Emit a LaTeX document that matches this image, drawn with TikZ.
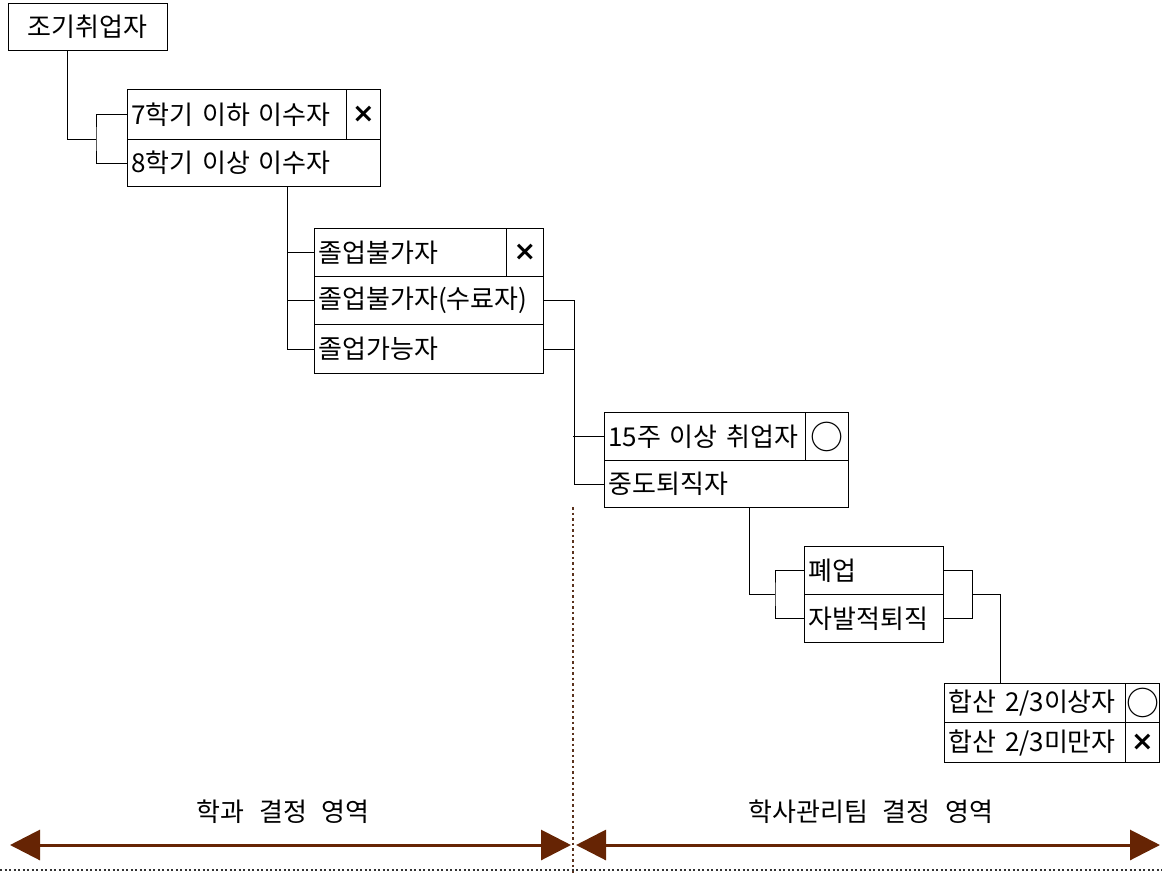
\documentclass[tikz,border=0pt]{standalone}
\usepackage{fontspec}
\setmainfont{Noto Sans CJK KR}[WordSpace=2.5]
\newfontfamily\symfont{DejaVu Sans}
\usetikzlibrary{arrows.meta}
\definecolor{arrowbrown}{RGB}{102,36,4}
\definecolor{dotbrown}{RGB}{90,50,30}
\begin{document}
\begin{tikzpicture}[x=1pt,y=-1pt,
  every node/.style={font=\fontsize{26pt}{30pt}\selectfont},
  row/.style={draw,line width=1pt,inner xsep=4pt,inner ysep=0pt,align=left,anchor=north west},
  symcell/.style={draw,line width=1pt,inner sep=0pt,anchor=north west},
  xmark/.style={font=\symfont\bfseries\fontsize{27pt}{30pt}\selectfont},
  omark/.style={font=\fontsize{33pt}{36pt}\selectfont},
  conn/.style={line width=1pt},
  region/.style={line width=3pt,arrowbrown,{Triangle[length=30pt,width=30pt]}-{Triangle[length=30pt,width=30pt]}},
  lbl/.style={inner sep=0pt}]
\useasboundingbox (0,0) rectangle (1162,873);

% top box
\node[draw,line width=1pt,minimum width=159pt,minimum height=47pt,inner sep=0pt] (A) at (87.5,26.5) {조기취업자};

% box B
\node[row,text width=245pt,minimum height=50pt] (b1) at (127,89) {7학기 이하 이수자};
\node[row,text width=245pt,minimum height=47pt] (b2) at (127,139) {8학기 이상 이수자};
\node[symcell,xmark,minimum width=34pt,minimum height=50pt] (bs) at (346,89) {×};

% box C
\node[row,text width=221pt,minimum height=48pt] (c1) at (314,228) {졸업불가자};
\node[row,text width=221pt,minimum height=48pt] (c2) at (314,276) {졸업불가자(수료자)};
\node[row,text width=221pt,minimum height=49pt] (c3) at (314,324) {졸업가능자};
\node[symcell,xmark,minimum width=37pt,minimum height=48pt] (cs) at (506,228) {×};

% box D
\node[row,text width=236pt,minimum height=48pt] (d1) at (604,412) {15주 이상 취업자};
\node[row,text width=236pt,minimum height=47pt] (d2) at (604,460) {중도퇴직자};
\node[symcell,omark,minimum width=43pt,minimum height=48pt] (ds) at (805,412) {○};

% box E
\node[row,text width=131pt,minimum height=48pt] (e1) at (804,546) {폐업};
\node[row,text width=131pt,minimum height=48pt] (e2) at (804,594) {자발적퇴직};

% box F
\node[row,text width=207pt,minimum height=39pt] (f1) at (944,683) {합산 2/3이상자};
\node[row,text width=207pt,minimum height=40pt] (f2) at (944,722) {합산 2/3미만자};
\node[symcell,omark,minimum width=34pt,minimum height=39pt] (fs1) at (1125,683) {○};
\node[symcell,xmark,minimum width=34pt,minimum height=40pt] (fs2) at (1125,722) {×};

% connectors
\coordinate (jb) at (96,139);
\draw[conn] ([xshift=-20.5pt]A.south) |- (jb);
\draw[conn] (b1.west) -| (jb) |- (b2.west);

\draw[conn] ([xshift=33.5pt]b2.south) |- (c3.west);
\draw[conn] (c1.west) -- ++(-27,0);
\draw[conn] (c2.west) -- ++(-27,0);

\draw[conn] (c2.east) -- ++(30,0) |- (d2.west);
\draw[conn] (c3.east) -- ++(30,0);
\draw[conn] (d1.west) -- ++(-31,0);

\coordinate (je) at (775,594);
\draw[conn] ([xshift=23pt]d2.south) |- (je);
\draw[conn] (e1.west) -| (je) |- (e2.west);

\coordinate (jf) at (972,594);
\draw[conn] (e1.east) -| (jf) |- (e2.east);
\draw[conn] (jf) -| ([xshift=-51.5pt]f1.north);

% region separators
\coordinate (vtop) at (573,507);
\coordinate (vbot) at (573,873);
\draw[dotbrown,line width=2.5pt,dash pattern=on 2.5pt off 3pt] (vtop) -- (vbot);
\coordinate (hl) at (0,870);
\coordinate (hr) at (1162,870);
\draw[black!80,line width=2pt,dash pattern=on 2pt off 2.5pt] (hl) -- (hr);

% region arrows
\coordinate (a1l) at (10,845);
\coordinate (a1r) at (571,845);
\coordinate (a2l) at (576,845);
\coordinate (a2r) at (1160,845);
\draw[region] (a1l) -- (a1r);
\draw[region] (a2l) -- (a2r);
\node[lbl] (t1) at (283,812) {학과 결정 영역};
\node[lbl] (t2) at (871,812) {학사관리팀 결정 영역};
\end{tikzpicture}
\end{document}
